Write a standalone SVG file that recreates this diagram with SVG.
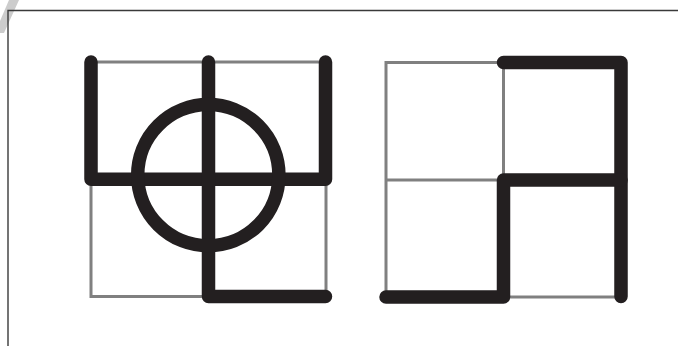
<svg xmlns="http://www.w3.org/2000/svg" width="678" height="346" viewBox="0 0 678 346">
<style>
.grid{fill:none;stroke:#808080;stroke-width:3}
.bold{fill:none;stroke:#231f20;stroke-width:13.5;stroke-linecap:round;stroke-linejoin:round}
.frame{fill:none;stroke:#3a3a3a;stroke-width:1.4}
</style>
<rect width="678" height="346" fill="#ffffff"/>
<polygon points="9,0 19,0 4,33 0,33 0,21" fill="#cccccc"/>
<path class="frame" d="M8 346 V10.5 H678"/>
<g id="left-figure">
<g id="left-grid">
<rect class="grid" x="91" y="62" width="235" height="234.5"/>
<path class="grid" d="M208.5 62 V296.5 M91 179.3 H326"/>
</g>
<g id="left-bold">
<path class="bold" d="M91 62 V179.3 H325.5 V62"/>
<path class="bold" d="M208.5 62 V296.5 H325.5"/>
<circle class="bold" cx="208.3" cy="175.2" r="70.6"/>
</g>
</g>
<g id="right-figure">
<g id="right-grid">
<rect class="grid" x="386" y="62.5" width="235" height="234.5"/>
<path class="grid" d="M503.5 62.5 V297 M386 180 H621"/>
</g>
<g id="right-bold">
<path class="bold" d="M503.5 62.5 H621 V296.5"/>
<path class="bold" d="M621 180 H503.5 V297 H386"/>
</g>
</g>
<g id="connectors"/>
</svg>
